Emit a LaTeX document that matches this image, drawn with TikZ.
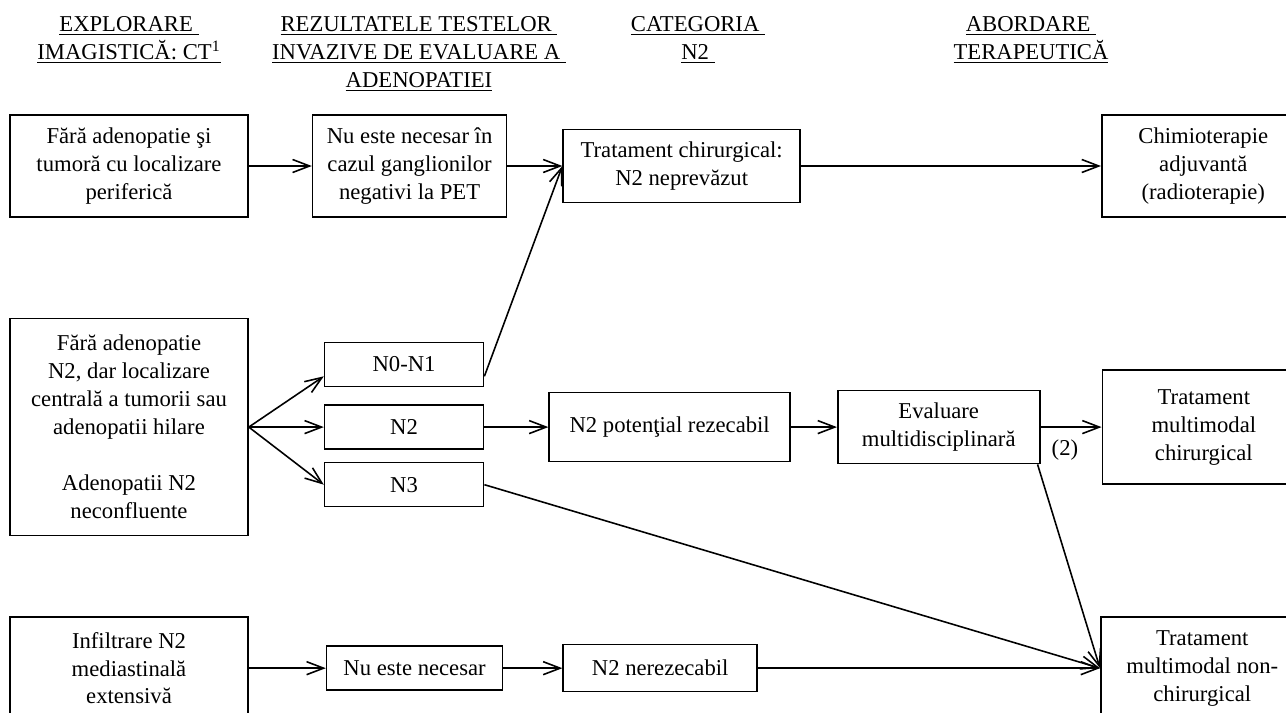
\documentclass[tikz,border=0pt]{standalone}
\usepackage{fontspec}
\setmainfont{Liberation Serif}
\usetikzlibrary{arrows.meta,positioning}

\begin{document}
\begin{tikzpicture}[
  x=0.2mm,y=-0.2mm,
  font=\fontsize{12.9pt}{15.9pt}\selectfont,
  head/.style={align=center,inner sep=0pt},
  box/.style={draw=black,line width=0.9pt,align=center,inner sep=0pt},
  flow/.style={-{Straight Barb[length=3.4mm,width=2.6mm]},line width=0.9pt},
  note/.style={inner sep=0pt}
]
  \useasboundingbox (0,0) rectangle (1286,712);
  \clip (0,0) rectangle (1286,712);

  % column headings
  \node[head] (hexpl) at (129,40) {\underline{EXPLORARE\ }\\
    \underline{IMAGISTICĂ: CT\textsuperscript{1}}};
  \node[head] (htest) at (419,54) {\underline{REZULTATELE TESTELOR\ }\\
    \underline{INVAZIVE DE EVALUARE A\ }\\\underline{ADENOPATIEI}};
  \node[head] (hcat) at (698,40) {\underline{CATEGORIA\ }\\\underline{N2\ }};
  \node[head] (happr) at (1031,40) {\underline{ABORDARE\ }\\\underline{TERAPEUTICĂ}};

  % first row
  \node[box,minimum width=47.6mm,minimum height=20.4mm] (periph) at (129,166) {
    Fără adenopatie şi\\tumoră cu localizare\\periferică};
  \node[box,minimum width=38.8mm,minimum height=20.4mm,right=12.6mm of periph] (petneg) {
    Nu este necesar în\\cazul ganglionilor\\negativi la PET};
  \node[box,minimum width=47.4mm,minimum height=14.6mm,right=11mm of petneg] (surg) {
    Tratament chirurgical:\\N2 neprevăzut};
  \node[box,minimum width=40.6mm,minimum height=20.4mm,right=60mm of surg] (adjuv) {
    Chimioterapie\\adjuvantă\\(radioterapie)};

  % second row
  \node[box,minimum width=47.6mm,minimum height=43.4mm,below=20mm of periph] (central) {
    Fără adenopatie\\N2, dar localizare\\centrală a tumorii sau\\adenopatii hilare\\[5.6mm]
    Adenopatii N2\\neconfluente};
  \node[box,minimum width=31.8mm,minimum height=8.8mm,right=15mm of central] (ntwo) {N2};
  \node[box,minimum width=31.8mm,minimum height=8.8mm,above=3.4mm of ntwo] (nzero) {N0-N1};
  \node[box,minimum width=31.8mm,minimum height=8.8mm,below=2.4mm of ntwo] (nthree) {N3};
  \node[box,minimum width=48.2mm,minimum height=13.8mm,right=12.8mm of ntwo] (resect) {
    N2 potenţial rezecabil};
  \node[box,minimum width=40.4mm,minimum height=14.6mm,right=9.2mm of resect] (mdt) {
    Evaluare\\multidisciplinară};
  \node[box,minimum width=40.6mm,minimum height=22.8mm,right=12.2mm of mdt] (multisurg) {
    Tratament\\multimodal\\chirurgical};

  % third row
  \node[box,minimum width=47.6mm,minimum height=20.4mm,below=16mm of central] (extens) {
    Infiltrare N2\\mediastinală\\extensivă};
  \node[box,minimum width=35.2mm,minimum height=8.8mm,right=15.4mm of extens] (notneed) {
    Nu este necesar};
  \node[box,minimum width=38.8mm,minimum height=9.4mm,right=11.8mm of notneed] (unresect) {
    N2 nerezecabil};
  \node[box,minimum width=40.6mm,minimum height=20.4mm,right=68.4mm of unresect] (nonsurg) {
    Tratament\\multimodal non-\\chirurgical};

  \draw[flow] (periph) -- (petneg);
  \draw[flow] (petneg) -- (surg);
  \draw[flow] (surg) -- (adjuv);
  \draw[flow] (central.east) -- ([yshift=2.2mm]nzero.south west);
  \draw[flow] (central.east) -- (ntwo.west);
  \draw[flow] (central.east) -- (nthree.west);
  \draw[flow] ([yshift=2.2mm]nzero.south east) -- (surg.west);
  \draw[flow] (ntwo) -- (resect);
  \draw[flow] (resect) -- (mdt);
  \draw[flow] (mdt) -- node[note,below=2.4mm,pos=0.4] {(2)} (multisurg);
  \draw[flow] ([xshift=-0.6mm]mdt.south east) -- (nonsurg.west);
  \draw[flow] (nthree.east) -- (nonsurg.west);
  \draw[flow] (extens) -- (notneed);
  \draw[flow] (notneed) -- (unresect);
  \draw[flow] (unresect) -- (nonsurg);
\end{tikzpicture}
\end{document}
